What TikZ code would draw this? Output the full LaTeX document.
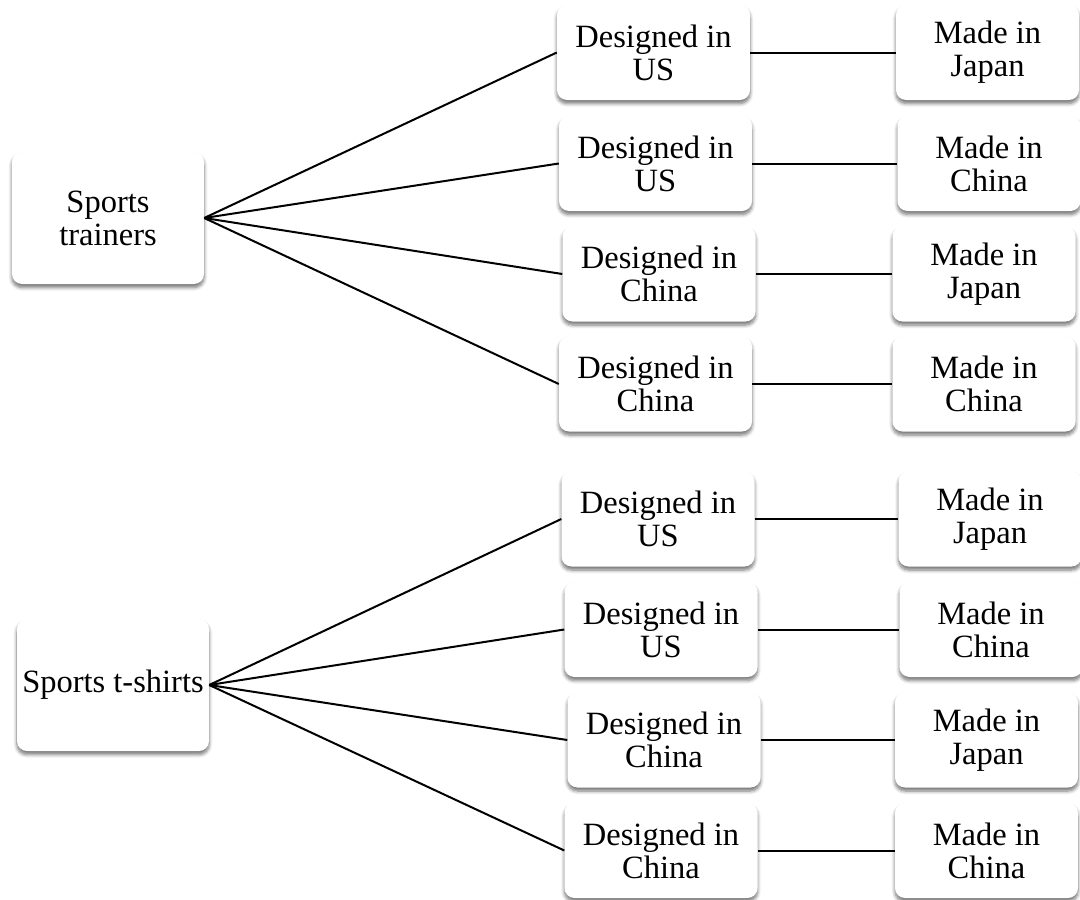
\documentclass[tikz,border=0pt]{standalone}
\usepackage{fontspec}
\setmainfont{Liberation Serif}
\usetikzlibrary{shadows.blur}
\newcommand\boxtextfont{\fontsize{32.5}{33}\selectfont}
\begin{document}
\begin{tikzpicture}[x=1pt,y=-1pt,
  box/.style={rectangle, rounded corners=10pt, fill=white, inner sep=0pt,
    align=center, font=\boxtextfont,
    blur shadow={shadow xshift=0pt, shadow yshift=-3.5pt, shadow blur radius=3.5pt,
      shadow blur steps=6, shadow opacity=55}},
  rootbox/.style={box, minimum width=192pt, minimum height=132pt},
  dbox/.style={box, minimum width=193pt, minimum height=95pt},
  mbox/.style={box, minimum width=183pt, minimum height=95pt},
  link/.style={draw=black, line width=2pt}]
\useasboundingbox (0,0) rectangle (1080,900);

% root categories
\node[rootbox] (tr) at (108,218) {Sports\\trainers};
\node[rootbox] (ts) at (113,685) {Sports t-shirts};

% trainers: design and manufacture options
\node[dbox] (d1) at (653.5,52.5) {Designed in\\US};
\node[dbox] (d2) at (655.5,163.5) {Designed in\\US};
\node[dbox] (d3) at (659,274) {Designed in\\China};
\node[dbox] (d4) at (655.5,384) {Designed in\\China};
\node[mbox] (m1) at (987.5,52.5) {Made in\\Japan};
\node[mbox] (m2) at (989,163.5) {Made in\\China};
\node[mbox] (m3) at (984,274) {Made in\\Japan};
\node[mbox] (m4) at (984,384) {Made in\\China};

% t-shirts: design and manufacture options
\node[dbox] (d5) at (658,519) {Designed in\\US};
\node[dbox] (d6) at (661,629.5) {Designed in\\US};
\node[dbox] (d7) at (664,740) {Designed in\\China};
\node[dbox] (d8) at (661,850.5) {Designed in\\China};
\node[mbox] (m5) at (990,519) {Made in\\Japan};
\node[mbox] (m6) at (991,629.5) {Made in\\China};
\node[mbox] (m7) at (986.5,740) {Made in\\Japan};
\node[mbox] (m8) at (986.5,850.5) {Made in\\China};

% fan-out from each category
\foreach \d in {d1,d2,d3,d4}
  \draw[link] (tr.east) -- (\d.west);
\foreach \d in {d5,d6,d7,d8}
  \draw[link] (ts.east) -- (\d.west);

% design -> manufacture
\foreach \i in {1,...,8}
  \draw[link] (d\i.east) -- (m\i.west);
\end{tikzpicture}
\end{document}
